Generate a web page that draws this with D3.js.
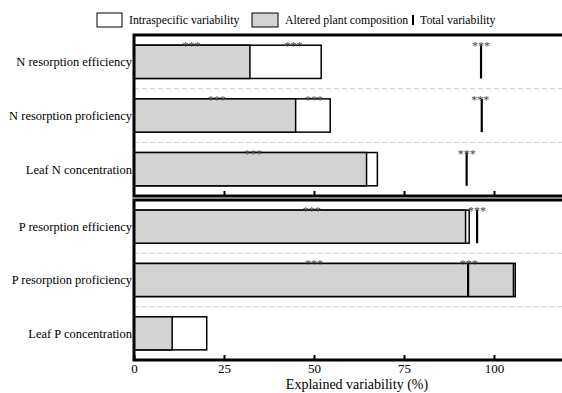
<!DOCTYPE html>
<html>
<head>
<meta charset="utf-8">
<script src="https://cdn.jsdelivr.net/npm/d3@7"></script>
</head>
<body style="margin:0; background:#fff">
<svg width="562" height="393"></svg>
<script>
// data
var nTraits = ["N resorption efficiency", "N resorption proficiency", "Leaf N concentration"];
var pTraits = ["P resorption efficiency", "P resorption proficiency", "Leaf P concentration"];

// altered plant composition (grey) and cumulative end with intraspecific (white)
var nAltered = [32.2, 44.9, 64.6];
var nStacked = [52.0, 54.5, 67.6];
var nTotal   = [96.4, 96.6, 92.4];
var pAltered = [92.1, 105.4, 10.6];
var pStacked = [93.1, 105.9, 20.2];
var pTotal   = [95.3, 92.8, null];

// where the *** labels sit (in % units), null = none
var nStarAltered = [16, 23, 33.1];
var nStarIntra   = [44.3, 50, null];
var nStarTotal   = [96.4, 96.2, 92.4];
var pStarAltered = [49.4, 50, null];
var pStarIntra   = [null, null, null];
var pStarTotal   = [95.3, 93, null];

var xTicks = [0, 25, 50, 75, 100];

var svg = d3.select("svg");
var left = 134;

var x = d3.scaleLinear().domain([0, 125]).range([left, left + 450]);

function panel(traits, altered, stacked, total, sA, sI, sT, top, bottom, labels){
  var y = d3.scaleBand().domain(traits).range([top, bottom])
    .paddingInner(0.38).paddingOuter(0.19);
  var g = svg.append("g");

  // dashed separators
  traits.slice(0, -1).forEach(function(t){
    var yy = y(t) + y.bandwidth() + y.step() * 0.19;
    g.append("line")
      .attr("x1", left).attr("x2", 562)
      .attr("y1", yy).attr("y2", yy)
      .attr("stroke", "#ccc").attr("stroke-dasharray", "5,3");
  });

  // white intraspecific part (drawn full length, grey on top)
  g.selectAll(".intra").data(traits).enter().append("rect")
    .attr("x", x(0))
    .attr("y", function(d){ return y(d); })
    .attr("width", function(d, i){ return x(stacked[i]) - x(0); })
    .attr("height", y.bandwidth())
    .attr("fill", "#fff").attr("stroke", "#000").attr("stroke-width", 1.5);

  g.selectAll(".alt").data(traits).enter().append("rect")
    .attr("x", x(0))
    .attr("y", function(d){ return y(d); })
    .attr("width", function(d, i){ return x(altered[i]) - x(0); })
    .attr("height", y.bandwidth())
    .attr("fill", "#d3d3d3").attr("stroke", "#000").attr("stroke-width", 1.5);

  // total variability lines
  g.selectAll(".tot").data(traits.filter(function(d, i){ return total[i] != null; }))
    .enter().append("line")
    .attr("x1", function(d){ return x(total[traits.indexOf(d)]); })
    .attr("x2", function(d){ return x(total[traits.indexOf(d)]); })
    .attr("y1", function(d){ return y(d); })
    .attr("y2", function(d){ return y(d) + y.bandwidth(); })
    .attr("stroke", "#000").attr("stroke-width", 2.2);

  // significance stars
  [sA, sI, sT].forEach(function(arr){
    traits.forEach(function(t, i){
      if (arr[i] == null) return;
      g.append("text")
        .attr("x", x(arr[i]))
        .attr("y", y(t) + 5)
        .attr("text-anchor", "middle")
        .attr("font-size", 12)
        .attr("fill", "#444")
        .text("***");
    });
  });

  // trait labels
  g.selectAll(".lab").data(traits).enter().append("text")
    .attr("x", left - 2)
    .attr("y", function(d){ return y(d) + y.bandwidth() / 2; })
    .attr("dy", "0.35em")
    .attr("text-anchor", "end")
    .attr("font-size", 12.5)
    .text(function(d){ return d; });

  // inward ticks
  var ax = g.append("g")
    .attr("transform", "translate(0," + bottom + ")")
    .call(d3.axisBottom(x).tickValues(labels ? xTicks : xTicks.slice(1))
      .tickSize(-5).tickPadding(4).tickFormat(labels ? d3.format("d") : ""));
  ax.select(".domain").remove();
  ax.selectAll("line").attr("stroke-width", 2);
  ax.selectAll("text").attr("font-size", 13).attr("fill", "#000");

  // frame
  g.append("rect")
    .attr("x", left).attr("y", top)
    .attr("width", 600).attr("height", bottom - top)
    .attr("fill", "none").attr("stroke", "#000").attr("stroke-width", 3);
}

panel(nTraits, nAltered, nStacked, nTotal, nStarAltered, nStarIntra, nStarTotal, 35, 196, false);
panel(pTraits, pAltered, pStacked, pTotal, pStarAltered, pStarIntra, pStarTotal, 200, 360, true);

svg.append("text")
  .attr("x", 357).attr("y", 389)
  .attr("text-anchor", "middle")
  .attr("font-size", 14)
  .text("Explained variability (%)");

// legend
var leg = svg.append("g");
leg.append("rect").attr("x", 97).attr("y", 13).attr("width", 25).attr("height", 14)
  .attr("fill", "#fff").attr("stroke", "#000").attr("stroke-width", 1);
leg.append("text").attr("x", 129).attr("y", 20).attr("dy", "0.35em")
  .attr("font-size", 11.8).text("Intraspecific variability");
leg.append("rect").attr("x", 252).attr("y", 13).attr("width", 26).attr("height", 14)
  .attr("fill", "#d3d3d3").attr("stroke", "#000").attr("stroke-width", 1);
leg.append("text").attr("x", 285).attr("y", 20).attr("dy", "0.35em")
  .attr("font-size", 11.8).text("Altered plant composition");
leg.append("line").attr("x1", 413).attr("x2", 413).attr("y1", 15).attr("y2", 25)
  .attr("stroke", "#000").attr("stroke-width", 2);
leg.append("text").attr("x", 420).attr("y", 20).attr("dy", "0.35em")
  .attr("font-size", 11.8).text("Total variability");

svg.selectAll("text").style("font-family", "'Liberation Serif'");
</script>
</body>
</html>
